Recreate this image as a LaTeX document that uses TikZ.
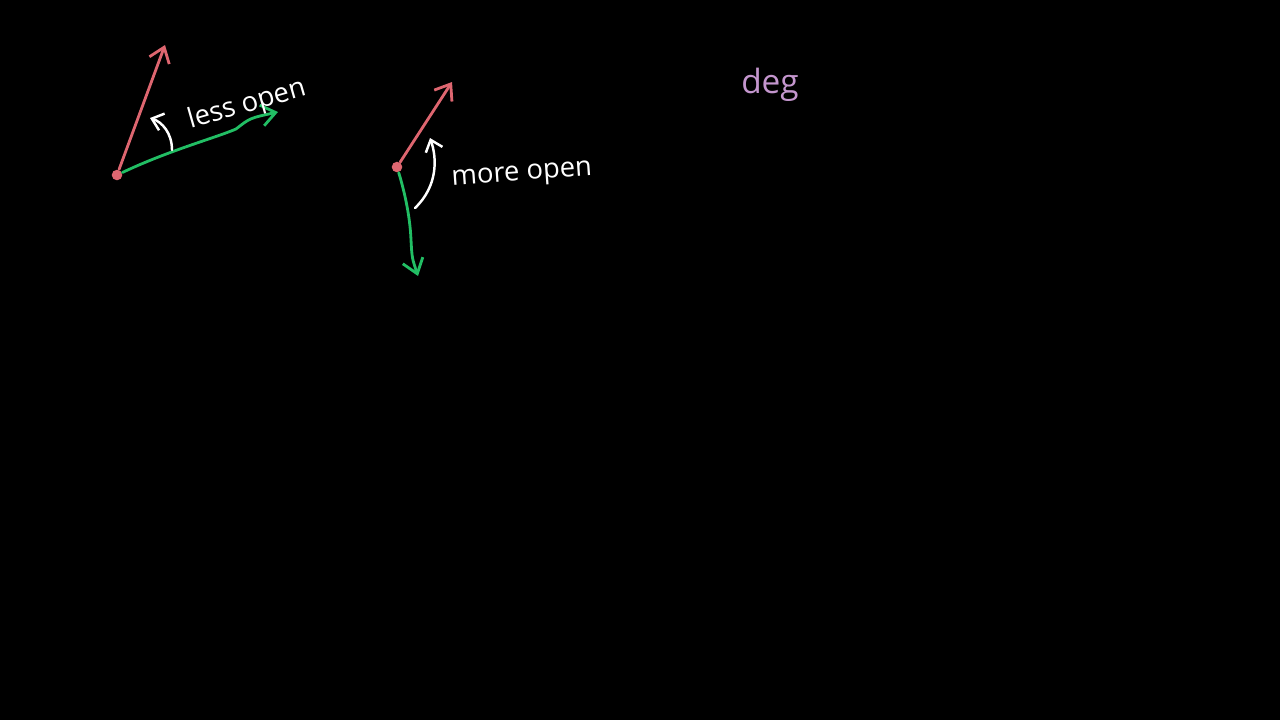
\documentclass[tikz,border=0pt]{standalone}
\usepackage{fontspec}
\setmainfont{Open Sans}
\usetikzlibrary{arrows.meta, positioning}

\definecolor{rayred}{RGB}{222,102,112}
\definecolor{raygreen}{RGB}{34,190,100}
\definecolor{lilac}{RGB}{196,150,206}

\begin{document}
\begin{tikzpicture}[
    x=0.01cm, y=-0.01cm,
    ray/.style={line width=0.8pt, line cap=round, -{Straight Barb[length=4pt, width=6pt]}},
    turn/.style={draw=white, line width=0.7pt, line cap=round, -{Straight Barb[length=3pt, width=5pt]}},
    vertex/.style={circle, fill=rayred, inner sep=0pt, minimum size=3pt},
    note/.style={text=white, font=\fontsize{7.8}{10}\selectfont, inner sep=0pt}
]
    \useasboundingbox[fill=black] (0,0) rectangle (1280,720);

    % Less open angle
    \node[vertex] (v1) at (117,175) {};
    \coordinate (r1) at (165,45);
    \coordinate (g1) at (278,112);
    \draw[ray, rayred] (v1) -- (r1);
    \draw[ray, raygreen] (v1) .. controls (170,150) and (215,138) .. (236,129)
        .. controls (250,118) .. (g1);
    \coordinate (t1) at (172,150);
    \coordinate (h1) at (150,118);
    \draw[turn] (t1) .. controls (172,133) and (162,122) .. (h1);
    \node[note, rotate=16] (less) at (247,105) {less open};

    % More open angle
    \node[vertex] (v2) at (397,167) {};
    \coordinate (r2) at (452,82);
    \coordinate (g2) at (418,276);
    \draw[ray, rayred] (v2) -- (r2);
    \draw[ray, raygreen] (v2) .. controls (404,190) and (410,215) .. (411,240)
        .. controls (412,258) .. (g2);
    \coordinate (t2) at (415,208);
    \coordinate (h2) at (430,138);
    \draw[turn] (t2) .. controls (438,186) and (437,158) .. (h2);
    \node[note, rotate=4] (more) at (522,176) {more open};

    % Units
    \node[note, text=lilac, font=\fontsize{9.5}{12}\selectfont] (deg) at (770,85) {deg};
\end{tikzpicture}
\end{document}
